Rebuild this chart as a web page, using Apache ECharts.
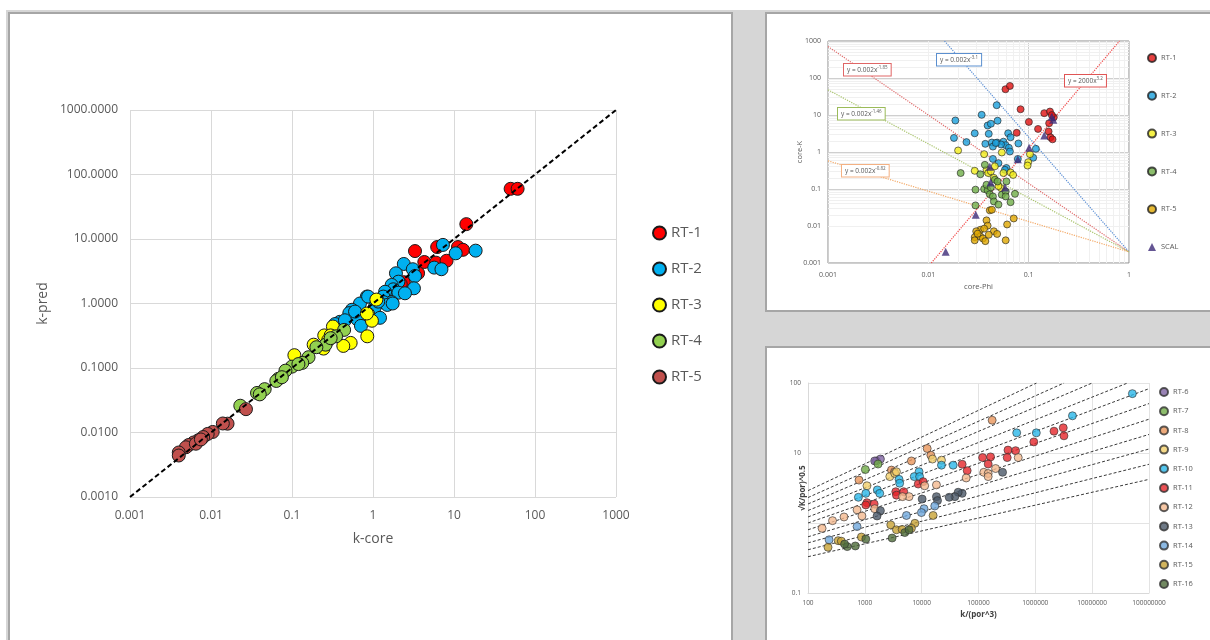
<!DOCTYPE html>
<html><head><meta charset="utf-8">
<script src="https://cdn.jsdelivr.net/npm/echarts@6/dist/echarts.min.js"></script>
<style>
html,body{margin:0;padding:0;width:1210px;height:640px;overflow:hidden;background:#d6d6d6;position:relative}
#topstrip{position:absolute;left:0;top:0;width:1210px;height:10px;background:#fff}
#leftstrip{position:absolute;left:0;top:0;width:6px;height:640px;background:#fff}
.panel{position:absolute;background:#fff;border:2px solid #a6a6a6}
#p1{left:8px;top:12px;width:721px;height:640px}
#p2{left:765px;top:12px;width:460px;height:296px}
#p3{left:765px;top:346px;width:460px;height:300px}
.ch{position:absolute;left:0;top:0;width:100%;height:100%}
</style></head>
<body>
<div id="topstrip"></div><div id="leftstrip"></div>
<div class="panel" id="p1"><div class="ch" id="ch1"></div></div>
<div class="panel" id="p2"><div class="ch" id="ch2"></div></div>
<div class="panel" id="p3"><div class="ch" id="ch3"></div></div>
<script>
// ---------- Chart 1 data: k-core vs k-pred ----------
const c1Names = ['RT-1','RT-2','RT-3','RT-4','RT-5'];
const c1_rt1_core = [50, 61, 14.2, 3.3, 6.2, 11.2, 12.9, 4.3, 6.0, 8.1, 3.6, 2.4, 2.2];
const c1_rt1_pred = [60, 60, 17, 6.5, 7.5, 7.5, 6.8, 4.4, 4.3, 4.6, 2.95, 2.14, 2.0];
const c1_rt2_core = [18.5, 7.3, 10.5, 5.7, 7.0, 2.4, 3.1, 3.3, 1.92, 3.2, 2.06, 1.7, 1.78, 1.41, 2.06, 2.48, 1.34, 0.84, 1.7, 1.35, 1.05, 1.22, 0.69, 0.55, 0.51, 0.64, 0.71, 0.39, 0.34, 0.45, 0.6, 1.5, 1.16, 0.87, 1.75];
const c1_rt2_pred = [6.6, 8.1, 6.0, 3.6, 3.4, 4.1, 3.4, 2.67, 2.94, 1.72, 2.18, 1.94, 1.66, 1.52, 1.47, 1.44, 1.28, 1.28, 1.05, 1.05, 0.87, 0.60, 1.0, 0.80, 0.71, 0.57, 0.45, 0.52, 0.48, 0.55, 0.75, 0.95, 1.07, 1.28, 1.0];
const c1_rt3_core = [1.1, 0.87, 0.97, 0.85, 0.53, 0.43, 0.32, 0.25, 0.30, 0.245, 0.185, 0.107, 0.28, 0.84];
const c1_rt3_pred = [1.15, 0.69, 0.54, 0.31, 0.245, 0.22, 0.44, 0.32, 0.32, 0.20, 0.23, 0.158, 0.27, 0.70];
const c1_rt4_core = [0.44, 0.35, 0.26, 0.30, 0.16, 0.134, 0.10, 0.083, 0.068, 0.064, 0.046, 0.037, 0.040, 0.023, 0.075, 0.12, 0.2];
const c1_rt4_pred = [0.39, 0.31, 0.23, 0.29, 0.147, 0.12, 0.105, 0.091, 0.068, 0.063, 0.047, 0.041, 0.039, 0.026, 0.072, 0.115, 0.21];
const c1_rt5_core = [0.027, 0.016, 0.014, 0.0105, 0.0091, 0.008, 0.007, 0.0061, 0.0053, 0.0049, 0.004, 0.004, 0.0065, 0.0075];
const c1_rt5_pred = [0.023, 0.0137, 0.0138, 0.0102, 0.0095, 0.0085, 0.0076, 0.0070, 0.0064, 0.0059, 0.0049, 0.0044, 0.0067, 0.0078];
const c1_diag = [[0.001, 0.001], [1000, 1000]];

// ---------- Chart 2 data: core-Phi vs core-K ----------
const c2Names = ['RT-1','RT-2','RT-3','RT-4','RT-5','SCAL'];
const c2_rt1_phi = [0.0587, 0.065, 0.083, 0.1005, 0.076, 0.124, 0.143, 0.163, 0.178, 0.16, 0.158, 0.165, 0.173, 0.17];
const c2_rt1_k   = [49.7, 61, 14.3, 6.5, 3.3, 4.2, 11.2, 12.4, 8.7, 6.0, 3.6, 2.5, 2.2, 10];
const c2_rt2_phi = [0.0186, 0.018, 0.024, 0.029, 0.034, 0.048, 0.039, 0.042, 0.049, 0.040, 0.037, 0.043, 0.044, 0.0485, 0.056, 0.0625, 0.066, 0.059, 0.0635, 0.065, 0.079, 0.044, 0.05, 0.06, 0.058, 0.078, 0.118, 0.111, 0.053, 0.047];
const c2_rt2_k   = [7.1, 2.4, 1.85, 3.2, 10.1, 18.4, 5.2, 5.8, 7.0, 3.1, 1.66, 1.8, 1.4, 1.8, 1.9, 3.2, 2.5, 1.53, 1.3, 1.03, 1.7, 0.65, 0.5, 0.37, 0.33, 0.65, 1.22, 0.70, 1.6, 1.75];
const c2_rt3_phi = [0.0198, 0.029, 0.036, 0.038, 0.0395, 0.042, 0.046, 0.054, 0.056, 0.066, 0.070, 0.053, 0.103, 0.099, 0.0975, 0.045, 0.05];
const c2_rt3_k   = [1.1, 0.31, 0.875, 0.33, 0.27, 0.30, 0.41, 0.97, 0.27, 0.28, 0.24, 0.106, 0.875, 0.53, 0.43, 0.2, 0.12];
const c2_rt4_phi = [0.021, 0.0295, 0.033, 0.0295, 0.0366, 0.036, 0.039, 0.041, 0.046, 0.049, 0.044, 0.045, 0.050, 0.054, 0.059, 0.060, 0.059, 0.066, 0.073, 0.038, 0.042];
const c2_rt4_k   = [0.27, 0.096, 0.25, 0.036, 0.45, 0.1, 0.092, 0.072, 0.178, 0.16, 0.063, 0.046, 0.038, 0.070, 0.086, 0.16, 0.063, 0.044, 0.074, 0.13, 0.11];
const c2_rt5_phi = [0.041, 0.043, 0.038, 0.039, 0.071, 0.061, 0.033, 0.030, 0.029, 0.029, 0.033, 0.035, 0.037, 0.045, 0.0485, 0.040, 0.059, 0.036, 0.031];
const c2_rt5_k   = [0.0265, 0.0275, 0.0142, 0.0102, 0.016, 0.011, 0.0079, 0.0072, 0.005, 0.0041, 0.0052, 0.0046, 0.0039, 0.0072, 0.0061, 0.0058, 0.0041, 0.0085, 0.0062];
const c2_scal_phi = [0.0149, 0.0297, 0.0417, 0.041, 0.058, 0.078, 0.101, 0.143, 0.176, 0.17];
const c2_scal_k   = [0.002, 0.0202, 0.151, 0.40, 0.11, 0.64, 1.3, 2.8, 7.4, 9.0];
// trend lines (endpoints)
const c2_trend_red185 = [[0.001, 709], [1, 0.002]];
const c2_trend_blue31 = [[0.0145, 1000], [1, 0.002]];
const c2_trend_grn146 = [[0.001, 47.9], [1, 0.002]];
const c2_trend_org082 = [[0.001, 0.577], [1, 0.002]];
const c2_trend_red32  = [[0.0107, 0.001], [0.805, 1000]];

// ---------- Chart 3 data: k/(por^3) vs sqrt(K/por) ----------
const c3Names = ['RT-6','RT-7','RT-8','RT-9','RT-10','RT-11','RT-12','RT-13','RT-14','RT-15','RT-16'];
const c3_rt6_x = [1600, 1880, 1490];             const c3_rt6_y = [7.7, 8.2, 7.7];
const c3_rt7_x = [1020, 1710];                   const c3_rt7_y = [5.8, 6.95];
const c3_rt8_x = [174000, 12500, 14500, 6600, 790, 2940, 3300];
const c3_rt8_y = [29.4, 11.6, 9.3, 7.7, 4.1, 5.7, 5.3];
const c3_rt9_x = [22300, 15500, 2750, 3370, 1090, 3600];
const c3_rt9_y = [7.9, 8.2, 4.6, 5.1, 3.4, 5.4];
const c3_rt10_x = [5.1e7, 4.5e6, 4.7e5, 1.04e6, 35800, 22300, 9000, 7400, 4000, 4100, 1660, 1830, 1040, 770, 9200];
const c3_rt10_y = [70.5, 34, 19.4, 19.4, 6.7, 6.7, 5.4, 4.6, 4.2, 3.7, 2.97, 2.65, 2.65, 2.33, 4.6];
const c3_rt11_x = [2.13e6, 3.1e6, 3.19e6, 9.4e5, 3.3e5, 4.5e5, 3.2e5, 1.18e5, 1.63e5, 1.48e5, 51600, 63200, 8700, 10600, 3500, 4840, 3600, 1090, 1460, 1040];
const c3_rt11_y = [20.5, 22.9, 17.6, 14.4, 11, 10.8, 8.6, 8.6, 8.8, 6.95, 6.9, 5.6, 3.6, 3.9, 2.8, 2.8, 2.5, 1.95, 1.87, 1.81];
const c3_rt12_x = [5.0e5, 2.0e5, 1.24e5, 1.48e5, 1.48e5, 60700, 18200, 11300, 6000, 4600, 730, 890, 430, 270, 177, 1490];
const c3_rt12_y = [8.6, 6.0, 5.3, 5.1, 4.6, 4.4, 3.5, 3.4, 2.38, 2.38, 1.54, 1.26, 1.22, 1.08, 0.84, 1.6];
const c3_rt13_x = [2.65e5, 51600, 43900, 38400, 30500, 18200, 19000, 10200, 1880, 1640];
const c3_rt13_y = [5.3, 2.65, 2.75, 2.38, 2.33, 2.38, 2.09, 2.2, 1.5, 1.26];
const c3_rt14_x = [17000, 11000, 9900, 5400, 730, 235];
const c3_rt14_y = [1.75, 1.6, 1.41, 1.28, 0.89, 0.575];
const c3_rt15_x = [15900, 7600, 6600, 2860, 3600, 4530, 870, 340, 386, 225];
const c3_rt15_y = [1.28, 0.99, 0.84, 0.94, 0.80, 0.81, 0.63, 0.56, 0.55, 0.45];
const c3_rt16_x = [5050, 6000, 3020, 1040, 680, 490, 440];
const c3_rt16_y = [0.73, 0.8, 0.61, 0.59, 0.47, 0.46, 0.50];
// dashed guide lines: [xStart, yStart, xEnd, yEnd]
const c3_guides = [
  [100, 2.90, 1.05e6, 100],
  [100, 2.31, 3.2e6, 100],
  [100, 1.87, 1.0e7, 100],
  [100, 1.51, 4.2e7, 100],
  [100, 1.22, 1e8, 83],
  [100, 1.00, 1e8, 50.8],
  [100, 0.80, 1e8, 30.4],
  [100, 0.635, 1e8, 18.4],
  [100, 0.52, 1e8, 11.4],
  [100, 0.415, 1e8, 6.9],
  [100, 0.33, 1e8, 4.2]
];

const FONT = "'Open Sans', 'Liberation Sans', sans-serif";
const GREY = '#595959';
const zip = (a, b) => a.map((v, i) => [v, b[i]]);
const fmtNum = v => String(parseFloat(Number(v).toPrecision(6)));

// ================= Chart 1 =================
const c1Colors = ['#ff0000', '#00b0f0', '#ffff00', '#92d050', '#c0504d'];
const c1Data = [zip(c1_rt1_core, c1_rt1_pred), zip(c1_rt2_core, c1_rt2_pred), zip(c1_rt3_core, c1_rt3_pred), zip(c1_rt4_core, c1_rt4_pred), zip(c1_rt5_core, c1_rt5_pred)];
const ch1 = echarts.init(document.getElementById('ch1'));
ch1.setOption({
  animation: false,
  textStyle: { fontFamily: FONT },
  grid: { left: 120, top: 96, width: 486, height: 387 },
  xAxis: {
    type: 'log', logBase: 10, min: 0.001, max: 1000, splitNumber: 6,
    name: 'k-core', nameLocation: 'middle', nameGap: 35, nameMoveOverlap: false,
    nameTextStyle: { color: GREY, fontSize: 14, fontFamily: FONT },
    axisLine: { show: false }, axisTick: { show: false },
    axisLabel: { color: GREY, fontSize: 12, margin: 13, formatter: fmtNum, fontFamily: FONT },
    splitLine: { show: true, lineStyle: { color: '#d9d9d9', width: 1 } }
  },
  yAxis: {
    type: 'log', logBase: 10, min: 0.001, max: 1000, splitNumber: 6,
    name: 'k-pred', nameLocation: 'middle', nameGap: 80, nameMoveOverlap: false,
    nameTextStyle: { color: GREY, fontSize: 14, fontFamily: FONT },
    axisLine: { show: false }, axisTick: { show: false },
    axisLabel: { color: GREY, fontSize: 12, margin: 12, formatter: v => parseFloat(Number(v).toPrecision(6)).toFixed(4), fontFamily: FONT },
    splitLine: { show: true, lineStyle: { color: '#d9d9d9', width: 1 } }
  },
  legend: {
    orient: 'vertical', left: 637, top: 205, itemWidth: 13, itemHeight: 13, itemGap: 18, itemTextGap: 4,
    icon: 'circle', data: c1Names,
    textStyle: { color: GREY, fontSize: 15, lineHeight: 18, fontFamily: FONT }
  },
  series: c1Names.map((n, i) => ({
    name: n, type: 'scatter', data: c1Data[i], symbolSize: 13, z: 3,
    itemStyle: { color: c1Colors[i], borderColor: '#1a1a1a', borderWidth: 1, opacity: 1 }
  })).concat([{
    name: 'diag', type: 'line', data: c1_diag, symbol: 'none', z: 5, silent: true,
    lineStyle: { color: '#000', width: 2, type: [5, 3] }
  }])
});

// ================= Chart 2 =================
const c2Colors = ['#e01010', '#1aa0dc', '#f2ee1a', '#6fae47', '#e0a700', '#3d2b78'];
const c2Data = [zip(c2_rt1_phi, c2_rt1_k), zip(c2_rt2_phi, c2_rt2_k), zip(c2_rt3_phi, c2_rt3_k), zip(c2_rt4_phi, c2_rt4_k), zip(c2_rt5_phi, c2_rt5_k), zip(c2_scal_phi, c2_scal_k)];
// minor (2..9 per decade) grid positions for log axes
const minorX = [], minorY = [];
[0.001, 0.01, 0.1].forEach(d => { for (let m = 2; m <= 9; m++) minorX.push(+(d * m).toPrecision(3)); });
[0.001, 0.01, 0.1, 1, 10, 100].forEach(d => { for (let m = 2; m <= 9; m++) minorY.push(+(d * m).toPrecision(3)); });
const trend = (name, data, color) => ({
  name, type: 'line', data, symbol: 'none', z: 2, silent: true, clip: true,
  lineStyle: { color, width: 1.2, type: 'dotted' }
});
const ch2 = echarts.init(document.getElementById('ch2'));
const sup = (base, exp) => '{b|' + base + '}{s|' + exp + '}';
const boxText = (left, top, base, exp, color) => ({
  type: 'text', left, top, z: 100,
  style: {
    text: sup(base, exp), fontSize: 6.5, fill: '#595959', fontFamily: FONT,
    backgroundColor: '#fff', borderColor: color, borderWidth: 1, padding: [1.5, 3],
    rich: { b: { fontSize: 6.5, fill: '#595959', color: '#595959', lineHeight: 8.5, fontFamily: FONT },
            s: { fontSize: 4.5, fill: '#595959', color: '#595959', verticalAlign: 'top', lineHeight: 8.5, fontFamily: FONT } }
  }
});
ch2.setOption({
  animation: false,
  textStyle: { fontFamily: FONT },
  grid: { left: 61, top: 27, width: 301, height: 222, show: true, borderColor: '#8c8c8c', borderWidth: 1, backgroundColor: 'transparent' },
  xAxis: {
    type: 'log', logBase: 10, min: 0.001, max: 1, splitNumber: 3,
    name: 'core-Phi', nameLocation: 'middle', nameGap: 20, nameMoveOverlap: false,
    nameTextStyle: { color: GREY, fontSize: 7.5, fontFamily: FONT },
    axisLine: { show: false }, axisTick: { show: false },
    axisLabel: { color: GREY, fontSize: 7, margin: 8, formatter: fmtNum, fontFamily: FONT },
    splitLine: { show: true, lineStyle: { color: '#cfcfcf', width: 1 } }
  },
  yAxis: {
    type: 'log', logBase: 10, min: 0.001, max: 1000, splitNumber: 6,
    name: 'core-K', nameLocation: 'middle', nameGap: 24, nameMoveOverlap: false,
    nameTextStyle: { color: GREY, fontSize: 7.5, fontFamily: FONT },
    axisLine: { show: false }, axisTick: { show: false },
    axisLabel: { color: GREY, fontSize: 7, margin: 7, formatter: fmtNum, fontFamily: FONT },
    splitLine: { show: true, lineStyle: { color: '#cfcfcf', width: 1 } }
  },
  legend: {
    orient: 'vertical', left: 375, top: 34, itemWidth: 8, itemHeight: 8, itemGap: 27.8, itemTextGap: 2,
    data: c2Names.map((n, i) => ({ name: n, icon: i === 5 ? 'triangle' : 'circle' })),
    textStyle: { color: GREY, fontSize: 7.5, lineHeight: 10, fontFamily: FONT }
  },
  graphic: [
    boxText(76, 49, 'y = 0.002x', '-1.85', '#e06666'),
    boxText(169, 39, 'y = 0.002x', '-3.1', '#5b8fcf'),
    boxText(297, 60, 'y = 2000x', '3.2', '#e05555'),
    boxText(70, 93, 'y = 0.002x', '-1.46', '#9bbb59'),
    boxText(74, 150, 'y = 0.002x', '-0.82', '#f4b183')
  ],
  series: [
    Object.assign(trend('t1', c2_trend_red185, '#e06b6b'), {
      markLine: {
        silent: true, symbol: 'none', label: { show: false }, z: 0,
        lineStyle: { color: '#f0f0f0', width: 1, type: 'solid' },
        data: minorX.map(v => ({ xAxis: v })).concat(minorY.map(v => ({ yAxis: v })))
      }
    }),
    trend('t2', c2_trend_blue31, '#5b8fd5'),
    trend('t3', c2_trend_grn146, '#a9c46c'),
    trend('t4', c2_trend_org082, '#f3a865'),
    trend('t5', c2_trend_red32, '#f04848')
  ].concat(c2Names.map((n, i) => ({
    name: n, type: 'scatter', data: c2Data[i], symbol: i === 5 ? 'triangle' : 'circle',
    symbolSize: i === 5 ? 8 : 7, z: 3,
    itemStyle: { color: c2Colors[i], borderColor: '#222', borderWidth: i === 5 ? 0 : 0.8 }
  })))
});

// ================= Chart 3 =================
const c3Colors = ['#8064a2', '#70ad47', '#e8955a', '#f2d06b', '#29b6e8', '#e5262b', '#f4b98f', '#4a5868', '#6fa8dc', '#c8a235', '#4e6b3a'];
const c3Data = [
  zip(c3_rt6_x, c3_rt6_y), zip(c3_rt7_x, c3_rt7_y), zip(c3_rt8_x, c3_rt8_y), zip(c3_rt9_x, c3_rt9_y),
  zip(c3_rt10_x, c3_rt10_y), zip(c3_rt11_x, c3_rt11_y), zip(c3_rt12_x, c3_rt12_y), zip(c3_rt13_x, c3_rt13_y),
  zip(c3_rt14_x, c3_rt14_y), zip(c3_rt15_x, c3_rt15_y), zip(c3_rt16_x, c3_rt16_y)
];
const ch3 = echarts.init(document.getElementById('ch3'));
ch3.setOption({
  animation: false,
  textStyle: { fontFamily: FONT },
  grid: { left: 41, top: 35, width: 341, height: 210 },
  xAxis: {
    type: 'log', logBase: 10, min: 100, max: 1e8, splitNumber: 6,
    name: 'k/(por^3)', nameLocation: 'middle', nameGap: 18, nameMoveOverlap: false,
    nameTextStyle: { color: '#404040', fontSize: 8, fontWeight: 'bold', fontFamily: FONT },
    axisLine: { show: true, lineStyle: { color: '#d9d9d9' } }, axisTick: { show: false },
    axisLabel: { color: GREY, fontSize: 6.5, margin: 7, formatter: fmtNum, fontFamily: FONT },
    splitLine: { show: true, lineStyle: { color: '#e3e3e3', width: 1 } }
  },
  yAxis: {
    type: 'log', logBase: 10, min: 0.1, max: 100, splitNumber: 3,
    name: '√K/por)^0.5', nameLocation: 'middle', nameGap: 1, nameMoveOverlap: false,
    nameTextStyle: { color: '#404040', fontSize: 8, fontWeight: 'bold', fontFamily: FONT },
    axisLine: { show: true, lineStyle: { color: '#d9d9d9' } }, axisTick: { show: false },
    axisLabel: { color: GREY, fontSize: 6.5, margin: 7, formatter: v => { const s = fmtNum(v); return s === '1' ? '' : s; }, fontFamily: FONT },
    splitLine: { show: true, lineStyle: { color: '#e3e3e3', width: 1 } }
  },
  legend: {
    orient: 'vertical', left: 387, top: 34, itemWidth: 8, itemHeight: 8, itemGap: 9.2, itemTextGap: 2,
    icon: 'circle', data: c3Names,
    textStyle: { color: GREY, fontSize: 7.5, lineHeight: 10, fontFamily: FONT }
  },
  series: c3_guides.map((g, i) => ({
    name: 'g' + i, type: 'line', data: [[g[0], g[1]], [g[2], g[3]]], symbol: 'none', z: 2, silent: true,
    lineStyle: { color: '#3a3a3a', width: 1, type: [3, 2] }
  })).concat(c3Names.map((n, i) => ({
    name: n, type: 'scatter', data: c3Data[i], symbolSize: 8, z: 3,
    itemStyle: { color: c3Colors[i], borderColor: '#333', borderWidth: 0.8 }
  })))
});
</script>
</body></html>
